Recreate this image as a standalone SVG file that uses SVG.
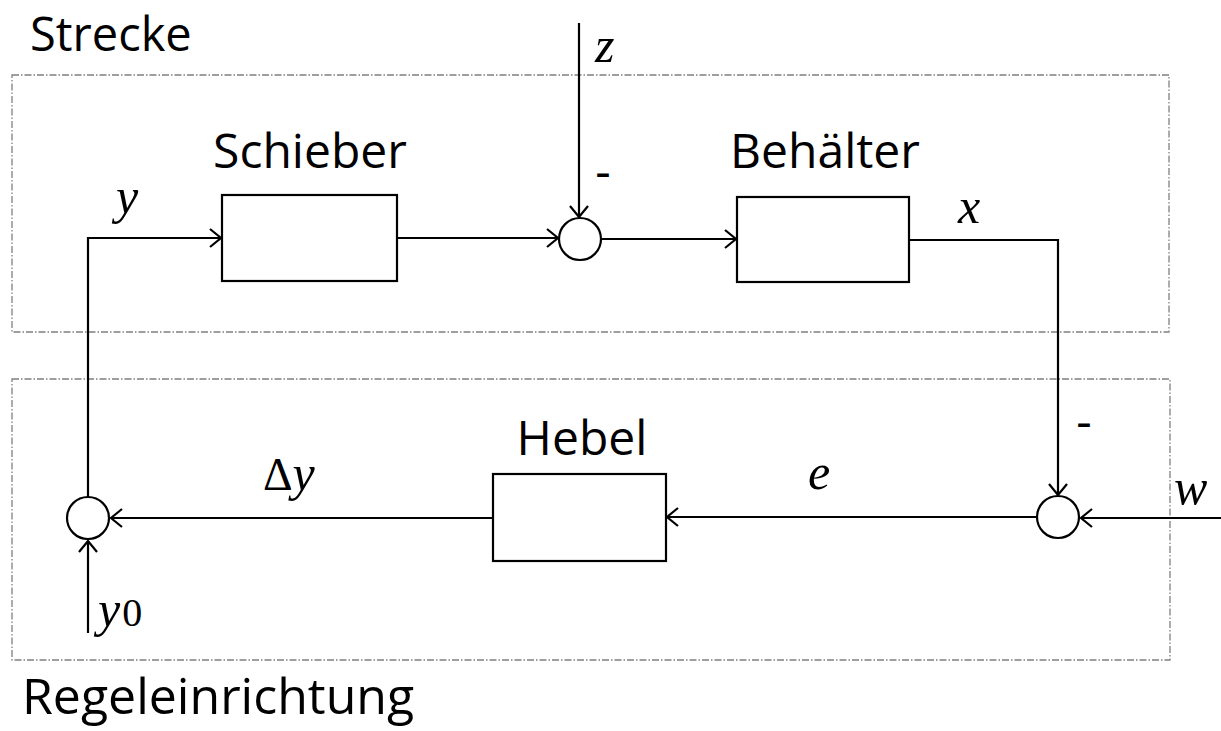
<svg xmlns="http://www.w3.org/2000/svg" width="1221" height="731" viewBox="0 0 1221 731">
<style>
.frame{fill:none;stroke:#808080;stroke-width:1.3;stroke-dasharray:7,2,1.5,2}
.blk{fill:#fff;stroke:#000;stroke-width:2.2}
.sum{fill:#fff;stroke:#000;stroke-width:2.2}
.ln{fill:none;stroke:#000;stroke-width:2.2;marker-end:url(#arr)}
.lbl{font-family:"Open Sans","Noto Sans",sans-serif;font-size:48px;fill:#000}
.mth{font-family:"Liberation Serif","DejaVu Serif",serif;font-style:italic;font-size:50px;fill:#000}
.up{font-family:"Liberation Serif","DejaVu Serif",serif;font-style:normal;font-size:46px;fill:#000}
.sub{font-family:"Liberation Serif","DejaVu Serif",serif;font-size:40px;fill:#000}
</style>
<defs>
<marker id="arr" markerUnits="userSpaceOnUse" markerWidth="14" markerHeight="20" refX="12" refY="10" orient="auto" overflow="visible">
<path d="M1,1 L12,10 L1,19" fill="none" stroke="#000" stroke-width="2.2"/>
</marker>
</defs>
<g id="strecke">
<rect class="frame" x="12" y="75" width="1157" height="257"/>
<text class="lbl" x="30" y="51" style="font-size:47px">Strecke</text>
</g>
<g id="regeleinrichtung">
<rect class="frame" x="12" y="379" width="1158" height="281"/>
<text class="lbl" x="22" y="714" style="font-size:50px">Regeleinrichtung</text>
</g>
<g id="connectors">
<path class="ln" d="M88,497 V238 H221"/>
<path class="ln" d="M397,238 H558"/>
<path class="ln" d="M579,23 V217"/>
<path class="ln" d="M601,239 H736"/>
<path class="ln" d="M909,240 H1058 V495"/>
<path class="ln" d="M1221,518 H1081"/>
<path class="ln" d="M1037,517 H667"/>
<path class="ln" d="M493,518 H111"/>
<path class="ln" d="M88,633 V541"/>
</g>
<g id="schieber">
<rect class="blk" x="222" y="195" width="175" height="86"/>
<text class="lbl" x="310" y="168" text-anchor="middle">Schieber</text>
</g>
<g id="behaelter">
<rect class="blk" x="737" y="197" width="172" height="85"/>
<text class="lbl" x="825" y="168" text-anchor="middle">Behälter</text>
</g>
<g id="hebel">
<rect class="blk" x="493" y="474" width="173" height="87"/>
<text class="lbl" x="582" y="455" text-anchor="middle">Hebel</text>
</g>
<g id="sum1">
<circle class="sum" cx="580" cy="239" r="21"/>
<text class="lbl" x="603" y="188" text-anchor="middle">-</text>
</g>
<g id="sum2">
<circle class="sum" cx="1058" cy="517" r="21"/>
<text class="lbl" x="1084" y="438" text-anchor="middle">-</text>
</g>
<g id="sum3">
<circle class="sum" cx="88" cy="518" r="21"/>
</g>
<g id="labels">
<text class="mth" x="116" y="213">y</text>
<text class="mth" x="595" y="62">z</text>
<text class="mth" x="958" y="223">x</text>
<text class="mth" x="808" y="489">e</text>
<text x="263" y="490"><tspan class="up">Δ</tspan><tspan class="mth">y</tspan></text>
<text class="mth" x="1174" y="504">w</text>
<text x="98" y="626"><tspan class="mth">y</tspan><tspan class="sub" dx="2">0</tspan></text>
</g>
</svg>
